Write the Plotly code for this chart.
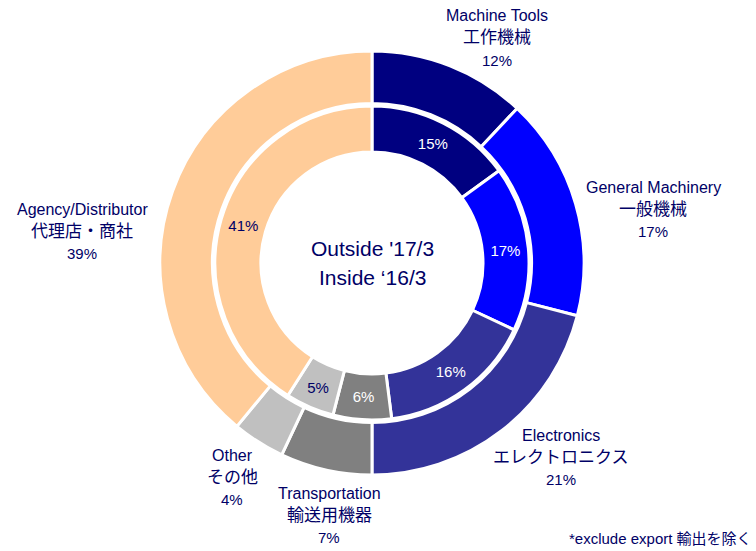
import plotly.graph_objects as go

categories = ["Machine Tools", "General Machinery", "Electronics", "Transportation", "Other", "Agency/Distributor"]
categories_ja = ["工作機械", "一般機械", "エレクトロニクス", "輸送用機器", "その他", "代理店・商社"]
outside_1703 = [12, 17, 21, 7, 4, 39]
inside_1603 = [15, 17, 16, 6, 5, 41]
colors = ["#000080", "#0000FF", "#333399", "#808080", "#C0C0C0", "#FFCC99"]
inner_text_colors = ["#FFFFFF", "#FFFFFF", "#FFFFFF", "#FFFFFF", "#000066", "#000066"]
center_lines = ["Outside '17/3", "Inside \u201816/3"]
footnote = "*exclude export 輸出を除く"

W, H = 756, 551
OFF = 8  # page body margin offset
FONT = "Liberation Sans, Noto Sans CJK JP"
NARROW = "Liberation Sans Narrow, Liberation Sans, Noto Sans CJK JP"
NAVY = "#000066"

# target page-pixel geometry
cx, cy = 372, 263


def px_x(x):
    return (x - OFF) / W


def px_y(y):
    return 1 - (y - OFF) / H


def dom(r):
    return dict(x=[px_x(cx - r), px_x(cx + r)], y=[px_y(cy + r), px_y(cy - r)])


fig = go.Figure()
fig.add_trace(go.Pie(
    labels=categories, values=outside_1703, sort=False, direction="clockwise", rotation=0,
    hole=159.5 / 212, domain=dom(212),
    marker=dict(colors=colors, line=dict(color="white", width=3)),
    textinfo="none", hoverinfo="label+percent", showlegend=False,
))
fig.add_trace(go.Pie(
    labels=categories, values=inside_1603, sort=False, direction="clockwise", rotation=0,
    hole=111 / 157, domain=dom(157),
    marker=dict(colors=colors, line=dict(color="white", width=3)),
    texttemplate="%{value}%", textposition="inside", insidetextorientation="horizontal",
    insidetextfont=dict(family=NARROW, size=15, color=inner_text_colors),
    hoverinfo="label+percent", showlegend=False,
))

# outer label line positions (page pixel centers): x, y of first line, line step 22
label_pos = [(497, 16), (653, 187), (561, 435), (329, 493), (232, 455), (82, 209)]
for name, ja, v, (lx, ly) in zip(categories, categories_ja, outside_1703, label_pos):
    lines = [(name, 16, FONT), (ja, 17, FONT), (f"{v}%", 15, NARROW)]
    for i, (t, sz, fam) in enumerate(lines):
        fig.add_annotation(
            x=px_x(lx), y=px_y(ly + 22 * i), xref="paper", yref="paper", showarrow=False,
            text=t, xanchor="center", yanchor="middle",
            font=dict(family=fam, size=sz, color=NAVY),
        )

for i, t in enumerate(center_lines):
    fig.add_annotation(
        x=px_x(cx), y=px_y(248 + 29 * i), xref="paper", yref="paper", showarrow=False,
        text=t, xanchor="center", yanchor="middle",
        font=dict(family=FONT, size=21, color=NAVY),
    )
fig.add_annotation(
    x=px_x(754), y=px_y(538), xref="paper", yref="paper", showarrow=False,
    text=footnote, xanchor="right", yanchor="middle",
    font=dict(family=FONT, size=15, color=NAVY),
)

fig.update_layout(
    width=W, height=H, margin=dict(l=0, r=0, t=0, b=0),
    paper_bgcolor="white", plot_bgcolor="white",
)
fig.write_html("out.html")
